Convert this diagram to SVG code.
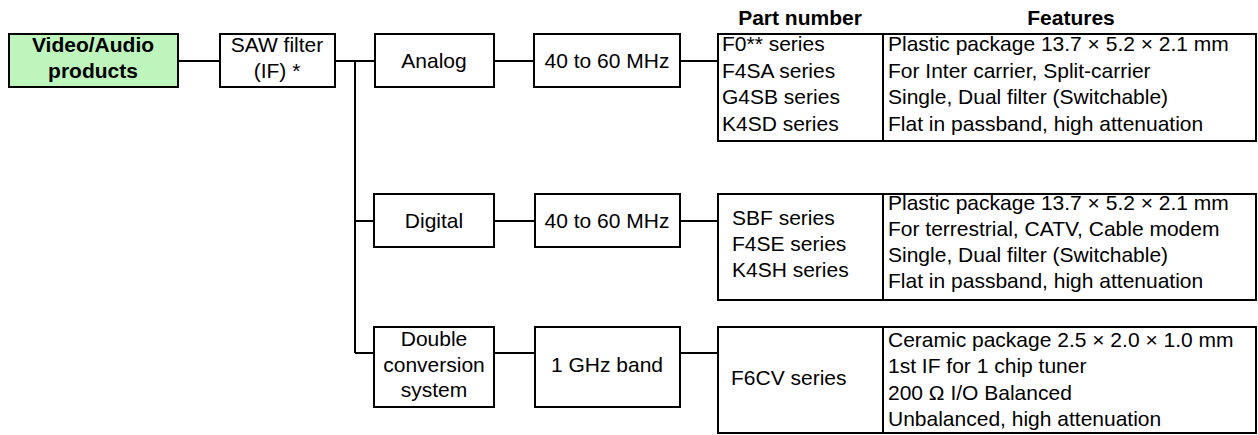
<svg xmlns="http://www.w3.org/2000/svg" width="1258" height="435" viewBox="0 0 1258 435">
<style>
.b{fill:#fff;stroke:#000;stroke-width:2}
.g{fill:#bdf5bd;stroke:#000;stroke-width:2}
.l{stroke:#000;stroke-width:2;fill:none}
text{font-family:"Liberation Sans",Arial,sans-serif;font-size:21px;fill:#000}
.c{text-anchor:middle}
.h{font-weight:bold}
</style>
<rect width="1258" height="435" fill="#fff"/>
<g id="connectors">
<path class="l" d="M178 61H220M335 61H375M355 61V353M355 221H374M355 353H374M494 61H534M680 61H718M494 221H535M680 221H718M494 353H535M680 353H718"/>
</g>
<g id="headers">
<text class="c h" x="800" y="25">Part number</text>
<text class="c h" x="1071" y="25">Features</text>
</g>
<g id="video-audio">
<rect class="g" x="9" y="34" width="169" height="53"/>
<text class="c h" x="93" y="52">Video/Audio</text>
<text class="c h" x="93" y="78">products</text>
</g>
<g id="saw">
<rect class="b" x="220" y="34" width="115" height="53"/>
<text class="c" x="277" y="52">SAW filter</text>
<text class="c" x="277" y="78">(IF) *</text>
</g>
<g id="analog">
<rect class="b" x="375" y="34" width="119" height="53"/>
<text class="c" x="434" y="68">Analog</text>
</g>
<g id="analog-freq">
<rect class="b" x="534" y="34" width="146" height="53"/>
<text class="c" x="607" y="68">40 to 60 MHz</text>
</g>
<g id="analog-table">
<rect class="b" x="718" y="34" width="538" height="107"/>
<path class="l" d="M883 34V141"/>
<text x="722" y="51">F0** series</text>
<text x="722" y="78">F4SA series</text>
<text x="722" y="104">G4SB series</text>
<text x="722" y="131">K4SD series</text>
<text x="888" y="51">Plastic package 13.7 × 5.2 × 2.1 mm</text>
<text x="888" y="78">For Inter carrier, Split-carrier</text>
<text x="888" y="104">Single, Dual filter (Switchable)</text>
<text x="888" y="131">Flat in passband, high attenuation</text>
</g>
<g id="digital">
<rect class="b" x="374" y="194" width="120" height="53"/>
<text class="c" x="434" y="228">Digital</text>
</g>
<g id="digital-freq">
<rect class="b" x="535" y="194" width="145" height="53"/>
<text class="c" x="607" y="228">40 to 60 MHz</text>
</g>
<g id="digital-table">
<rect class="b" x="718" y="194" width="538" height="106"/>
<path class="l" d="M883 194V300"/>
<text x="732" y="225">SBF series</text>
<text x="732" y="251">F4SE series</text>
<text x="732" y="277">K4SH series</text>
<text x="888" y="210">Plastic package 13.7 × 5.2 × 2.1 mm</text>
<text x="888" y="236">For terrestrial, CATV, Cable modem</text>
<text x="888" y="262">Single, Dual filter (Switchable)</text>
<text x="888" y="288">Flat in passband, high attenuation</text>
</g>
<g id="double">
<rect class="b" x="374" y="327" width="120" height="80"/>
<text class="c" x="434" y="346">Double</text>
<text class="c" x="434" y="372">conversion</text>
<text class="c" x="434" y="397">system</text>
</g>
<g id="ghz">
<rect class="b" x="535" y="327" width="145" height="80"/>
<text class="c" x="607" y="372">1 GHz band</text>
</g>
<g id="double-table">
<rect class="b" x="718" y="327" width="538" height="106"/>
<path class="l" d="M883 327V433"/>
<text x="731" y="385">F6CV series</text>
<text x="888" y="347">Ceramic package 2.5 × 2.0 × 1.0 mm</text>
<text x="888" y="373">1st IF for 1 chip tuner</text>
<text x="888" y="400">200 Ω I/O Balanced</text>
<text x="888" y="426">Unbalanced, high attenuation</text>
</g>
</svg>
